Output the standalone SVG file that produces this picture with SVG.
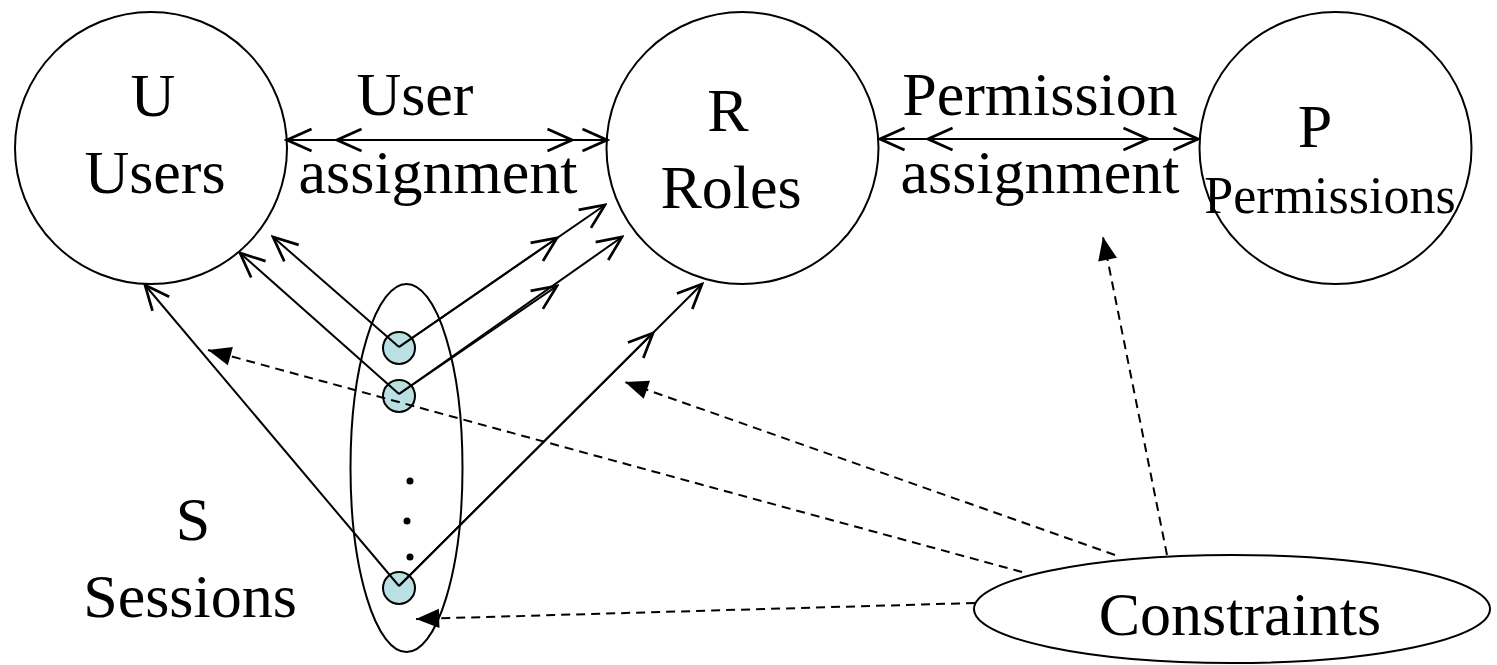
<svg xmlns="http://www.w3.org/2000/svg" width="1497" height="665" viewBox="0 0 1497 665">
<style>
.node{fill:none;stroke:#000;stroke-width:2}
.sess{fill:#bae0e3;stroke:#000;stroke-width:2}
.t{font-family:"Liberation Serif","Times New Roman",serif;font-size:62px;fill:#000;text-anchor:middle}
.c{fill:none;stroke:#000;stroke-width:2;marker-end:url(#open)}
.d{fill:none;stroke:#000;stroke-width:2;stroke-dasharray:9,6;marker-end:url(#solid)}
.dbl{fill:none;stroke:#000;stroke-width:2;marker-start:url(#openRev);marker-end:url(#open)}
</style>
<defs>
<marker id="open" markerUnits="userSpaceOnUse" markerWidth="30" markerHeight="30" viewBox="-20 -10 22 20" refX="0" refY="0" orient="auto">
<path d="M-18,-8 L0,0 L-18,8" fill="none" stroke="#000" stroke-width="2"/>
</marker>
<marker id="openRev" markerUnits="userSpaceOnUse" markerWidth="30" markerHeight="30" viewBox="-20 -10 22 20" refX="0" refY="0" orient="auto-start-reverse">
<path d="M-18,-8 L0,0 L-18,8" fill="none" stroke="#000" stroke-width="2"/>
</marker>
<marker id="solid" markerUnits="userSpaceOnUse" markerWidth="30" markerHeight="30" viewBox="-20 -10 22 20" refX="0" refY="0" orient="auto">
<path d="M0,0 L-17,-7 L-17,7 Z" fill="#000" stroke="none"/>
</marker>
</defs>

<g id="users">
<circle class="node" cx="151" cy="148" r="136"/>
<text class="t" x="153" y="116">U</text>
<text class="t" x="155" y="193">Users</text>
</g>
<g id="roles">
<circle class="node" cx="742.5" cy="148" r="136"/>
<text class="t" x="728" y="131">R</text>
<text class="t" x="731" y="208">Roles</text>
</g>
<g id="permissions">
<circle class="node" cx="1335.5" cy="148" r="136"/>
<text class="t" x="1315" y="147">P</text>
<text class="t" x="1330" y="213" style="font-size:52px">Permissions</text>
</g>
<g id="sessions">
<ellipse class="node" cx="406.5" cy="468" rx="56" ry="184"/>
<text class="t" x="193" y="540">S</text>
<text class="t" x="190" y="617">Sessions</text>
<circle cx="410" cy="481" r="3.5" fill="#000"/>
<circle cx="407" cy="521" r="3.5" fill="#000"/>
<circle cx="410" cy="557" r="3.5" fill="#000"/>
</g>
<g id="session1"><circle class="sess" cx="399" cy="348" r="16"/></g>
<g id="session2"><circle class="sess" cx="399" cy="396" r="16"/></g>
<g id="session3"><circle class="sess" cx="399" cy="588" r="16"/></g>
<g id="constraints">
<ellipse class="node" cx="1232" cy="609" rx="258" ry="54"/>
<text class="t" x="1240" y="635">Constraints</text>
</g>
<g id="labels">
<text class="t" x="415" y="115">User</text>
<text class="t" x="438" y="193">assignment</text>
<text class="t" x="1040" y="115">Permission</text>
<text class="t" x="1040" y="193">assignment</text>
</g>

<g id="connectors">
<line class="dbl" x1="287" y1="140" x2="607" y2="140"/>
<line class="dbl" x1="337" y1="140" x2="572" y2="140"/>
<line class="dbl" x1="880" y1="139" x2="1198" y2="139"/>
<line class="dbl" x1="928" y1="139" x2="1148" y2="139"/>

<line class="c" x1="399" y1="347" x2="273" y2="237"/>
<line class="c" x1="399" y1="394" x2="240" y2="253"/>
<line class="c" x1="399" y1="586" x2="145" y2="285"/>

<line class="c" x1="399" y1="347" x2="557" y2="238"/>
<line class="c" x1="399" y1="347" x2="605" y2="205"/>
<line class="c" x1="399" y1="394" x2="557" y2="286"/>
<line class="c" x1="399" y1="394" x2="622" y2="237"/>
<line class="c" x1="399" y1="586" x2="653" y2="333"/>
<line class="c" x1="399" y1="586" x2="702" y2="284"/>

<line class="d" x1="1022" y1="572" x2="208" y2="350"/>
<line class="d" x1="1115" y1="555" x2="625" y2="382"/>
<line class="d" x1="1167" y1="555" x2="1103" y2="237"/>
<line class="d" x1="975" y1="603" x2="416" y2="619"/>
</g>
</svg>
